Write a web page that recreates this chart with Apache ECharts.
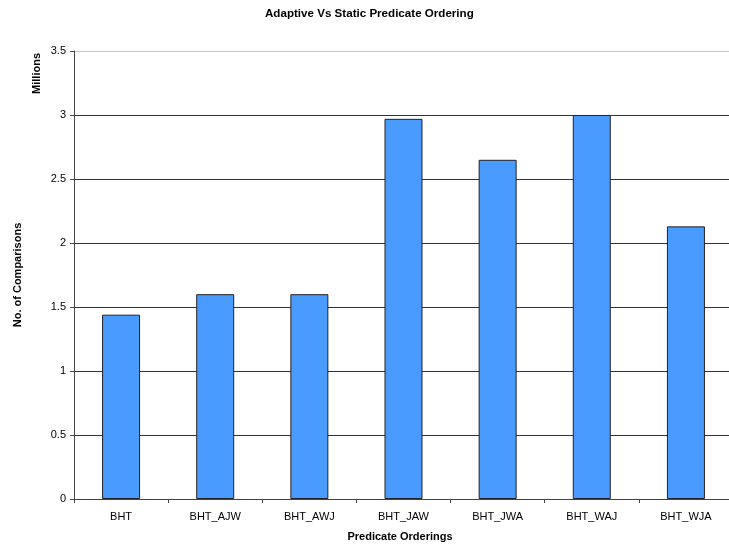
<!DOCTYPE html>
<html>
<head>
<meta charset="utf-8">
<script src="https://cdn.jsdelivr.net/npm/echarts@6/dist/echarts.min.js"></script>
<style>
  html, body { margin: 0; padding: 0; background: #fff; }
  #chart { width: 729px; height: 548px; }
</style>
</head>
<body>
<div id="chart"></div>
<script>
// Predicate orderings and comparison counts (millions)
const orderings = ['BHT', 'BHT_AJW', 'BHT_AWJ', 'BHT_JAW', 'BHT_JWA', 'BHT_WAJ', 'BHT_WJA'];
const comparisons = [1.44, 1.60, 1.60, 2.97, 2.65, 3.00, 2.13];
const yTicks = { min: 0, max: 3.5, step: 0.5 };

const font = 'Liberation Sans, Arial, sans-serif';
const chart = echarts.init(document.getElementById('chart'), null, { renderer: 'canvas' });

chart.setOption({
  animation: false,
  backgroundColor: '#ffffff',
  title: {
    text: 'Adaptive Vs Static Predicate Ordering',
    left: 265,
    top: 8,
    padding: 0,
    textStyle: { fontFamily: font, fontSize: 11.6, fontWeight: 'bold', color: '#000' }
  },
  grid: { left: 74, top: 51, width: 659, height: 448, containLabel: false, outerBoundsMode: 'none' },
  xAxis: {
    type: 'category',
    data: orderings,
    name: 'Predicate Orderings',
    nameLocation: 'middle',
    nameGap: 32,
    nameTextStyle: { fontFamily: font, fontSize: 11, fontWeight: 'bold', color: '#000', padding: [0, 7, 0, 0] },
    axisLine: { lineStyle: { color: '#444', width: 1 } },
    axisTick: { show: true, length: 4, lineStyle: { color: '#444' } },
    axisLabel: { fontFamily: font, fontSize: 11, color: '#000', margin: 12 }
  },
  yAxis: {
    type: 'value',
    min: yTicks.min,
    max: yTicks.max,
    interval: yTicks.step,
    name: 'No. of Comparisons',
    nameLocation: 'middle',
    nameGap: 51,
    nameRotate: 90,
    nameTextStyle: { fontFamily: font, fontSize: 11, fontWeight: 'bold', color: '#000' },
    axisLine: { show: true, lineStyle: { color: '#444', width: 1 } },
    axisTick: { show: true, length: 4, lineStyle: { color: '#444' } },
    axisLabel: { fontFamily: font, fontSize: 11, color: '#000', margin: 8 },
    splitLine: {
      show: true,
      lineStyle: { color: ['#444', '#333', '#333', '#333', '#333', '#333', '#333', '#c8c8c8'], width: 1 }
    }
  },
  graphic: [{
    type: 'text',
    left: 31,
    top: 53,
    rotation: Math.PI / 2,
    style: {
      text: 'Millions',
      fontFamily: font,
      fontSize: 11,
      fontWeight: 'bold',
      fill: '#000'
    }
  }],
  series: [{
    type: 'bar',
    data: comparisons,
    barWidth: 38,
    itemStyle: { color: '#4a9bff', borderColor: '#222', borderWidth: 1 }
  }]
});
</script>
</body>
</html>
